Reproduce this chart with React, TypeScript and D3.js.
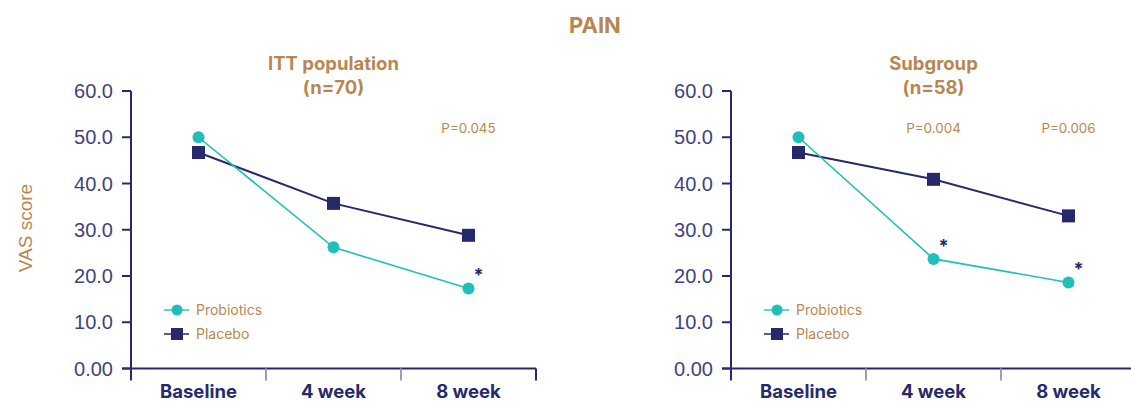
import React from "react";
import * as d3 from "d3";

const categories = ["Baseline", "4 week", "8 week"];
const yTicks = [0, 10, 20, 30, 40, 50, 60];
const yTickLabels = ["0.00", "10.0", "20.0", "30.0", "40.0", "50.0", "60.0"];

const ittProbiotics = [50.0, 26.2, 17.3];
const ittPlacebo = [46.7, 35.7, 28.8];
const subProbiotics = [50.0, 23.7, 18.6];
const subPlacebo = [46.7, 40.9, 33.0];

const ittTitle = ["ITT population", "(n=70)"];
const subTitle = ["Subgroup", "(n=58)"];
const ittPValues = [null, null, "P=0.045"];
const subPValues = [null, "P=0.004", "P=0.006"];
const ittStars = [false, false, true];
const subStars = [false, true, true];

const TEAL = "#20BFBA";
const NAVY = "#262A6A";
const LABEL = "#3E437E";
const GOLD = "#B8874F";
const FONT = "Inter, Roboto, sans-serif";
const SANS = "'Liberation Sans', Arial, sans-serif";

type PanelProps = {
  x0: number;
  x1: number;
  title: string[];
  prob: number[];
  plac: number[];
  pvals: (string | null)[];
  stars: boolean[];
};

function Panel({ x0, x1, title, prob, plac, pvals, stars }: PanelProps) {
  const x = d3.scaleBand<string>().domain(categories).range([x0, x1]).padding(0);
  const y = d3.scaleLinear().domain([0, 60]).range([368.5, 91]);
  const cx = (c: string) => (x(c) as number) + x.bandwidth() / 2;
  const line = d3
    .line<number>()
    .x((_, i) => cx(categories[i]))
    .y((v) => y(v));
  const y0 = y(0);
  const midX = cx(categories[1]);
  const boundaries = categories.map((c) => x(c) as number).concat([x1]);

  return (
    <g>
      <text x={midX} y={70} textAnchor="middle" fontFamily={FONT} fontWeight={700} fontSize={18.5} fill={GOLD}>
        {title[0]}
      </text>
      <text x={midX} y={94} textAnchor="middle" fontFamily={FONT} fontWeight={700} fontSize={18.5} fill={GOLD}>
        {title[1]}
      </text>
      {/* y axis */}
      <line x1={x0} x2={x0} y1={y(60)} y2={y0 + 12} stroke={NAVY} strokeWidth={2} />
      {yTicks.map((t, i) => (
        <g key={t}>
          <line x1={x0 - 9} x2={x0} y1={y(t)} y2={y(t)} stroke={NAVY} strokeWidth={2} />
          <text x={x0 - 18} y={y(t)} dy="0.36em" textAnchor="end" fontFamily={SANS} fontSize={20} fill={LABEL}>
            {yTickLabels[i]}
          </text>
        </g>
      ))}
      {/* x axis */}
      <line x1={x0 - 9} x2={x1} y1={y0} y2={y0} stroke={NAVY} strokeWidth={2} />
      {boundaries.slice(1).map((b, i) => (
        <line
          key={i}
          x1={b}
          x2={b}
          y1={y0}
          y2={y0 + 12}
          stroke={i === boundaries.length - 2 ? NAVY : "#9A9CBD"}
          strokeWidth={2}
        />
      ))}
      {categories.map((c) => (
        <text key={c} x={cx(c)} y={398} textAnchor="middle" fontFamily={FONT} fontWeight={700} fontSize={18.5} fill={NAVY}>
          {c}
        </text>
      ))}
      {/* lines */}
      <path d={line(plac) || ""} fill="none" stroke={NAVY} strokeWidth={2} />
      <path d={line(prob) || ""} fill="none" stroke={TEAL} strokeWidth={1.6} />
      {plac.map((v, i) => (
        <rect key={"s" + i} x={cx(categories[i]) - 6.5} y={y(v) - 6.5} width={13} height={13} fill={NAVY} />
      ))}
      {prob.map((v, i) => (
        <circle key={"c" + i} cx={cx(categories[i])} cy={y(v)} r={6} fill={TEAL} />
      ))}
      {stars.map((s, i) =>
        s ? (
          <text key={"st" + i} x={cx(categories[i]) + 10} y={y(prob[i]) - 7} textAnchor="middle" fontFamily={FONT} fontWeight={700} fontSize={18} fill={NAVY}>
            *
          </text>
        ) : null
      )}
      {pvals.map((p, i) =>
        p ? (
          <text key={"p" + i} x={cx(categories[i])} y={133} textAnchor="middle" fontFamily={FONT} fontSize={13.4} fill={GOLD}>
            {p}
          </text>
        ) : null
      )}
      {/* legend */}
      <g>
        <line x1={x0 + 33} x2={x0 + 58} y1={310} y2={310} stroke="#6DD3CF" strokeWidth={2} />
        <circle cx={x0 + 46} cy={310} r={5.5} fill={TEAL} />
        <text x={x0 + 65} y={310} dy="0.36em" fontFamily={FONT} fontSize={14} fill={GOLD}>
          Probiotics
        </text>
        <line x1={x0 + 33} x2={x0 + 58} y1={334} y2={334} stroke="#5B5F90" strokeWidth={2} />
        <rect x={x0 + 40} y={328} width={12} height={12} fill={NAVY} />
        <text x={x0 + 65} y={334} dy="0.36em" fontFamily={FONT} fontSize={14} fill={GOLD}>
          Placebo
        </text>
      </g>
    </g>
  );
}

export default function App() {
  return (
    <svg
      width={1131}
      height={405}
      style={{ position: "absolute", left: 0, top: 0, background: "#fff" }}
    >
      <rect width={1131} height={405} fill="#fff" />
      <text x={595} y={33} textAnchor="middle" fontFamily={FONT} fontWeight={700} fontSize={22} fill={GOLD}>
        PAIN
      </text>
      <text
        transform="translate(32,228) rotate(-90)"
        textAnchor="middle"
        fontFamily={SANS}
        fontSize={19}
        fill={GOLD}
      >
        VAS score
      </text>
      <Panel x0={131} x1={536} title={ittTitle} prob={ittProbiotics} plac={ittPlacebo} pvals={ittPValues} stars={ittStars} />
      <Panel x0={731} x1={1136} title={subTitle} prob={subProbiotics} plac={subPlacebo} pvals={subPValues} stars={subStars} />
    </svg>
  );
}
